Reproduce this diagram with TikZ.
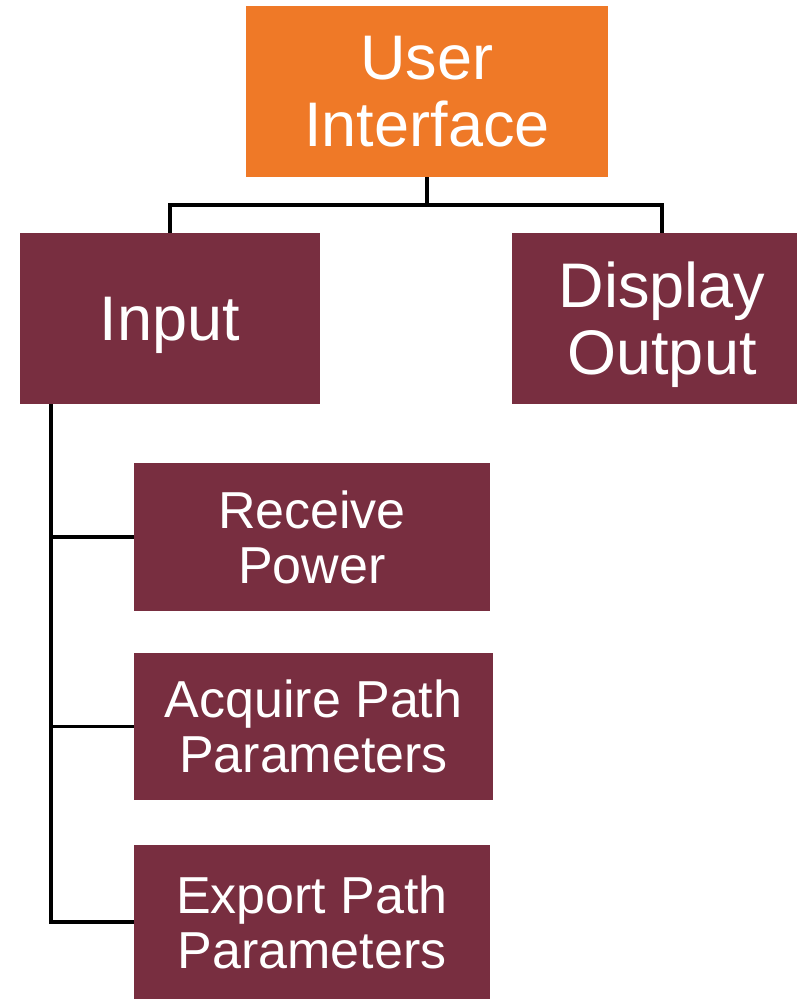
\documentclass[tikz,border=0pt]{standalone}
\usepackage{fontspec}
\setmainfont{Liberation Sans}
\definecolor{uiorange}{RGB}{239,121,39}
\definecolor{maroon}{RGB}{120,46,64}
\begin{document}
\begin{tikzpicture}[x=1pt,y=-1pt,
  box/.style={rectangle, fill=maroon, text=white, align=center, inner sep=0pt,
    minimum width=300pt, minimum height=171pt,
    font=\fontsize{63}{67}\selectfont},
  subbox/.style={rectangle, fill=maroon, text=white, align=center, inner sep=0pt,
    minimum width=356pt, minimum height=148pt,
    font=\fontsize{52}{55}\selectfont},
  link/.style={draw=black, line width=3.2pt}]
\useasboundingbox (0,0) rectangle (796,999);

% top level
\node[box, fill=uiorange, minimum width=362pt] (ui) at (427,91.5) {User\\Interface};

% second level
\node[box, text depth=0pt] (input) at (170,318.5) {Input};
\node[box, text depth=0pt] (display) at (662,318.5) {Display\\Output};

% input sub-functions
\node[subbox] (rp) at (312,537) {Receive\\Power};
\node[subbox, minimum width=359pt, minimum height=147pt] (app) at (313.5,726.5) {Acquire Path\\Parameters};
\node[subbox, minimum height=154pt] (epp) at (312,922) {Export Path\\Parameters};

% bus and trunk coordinates
\coordinate (bus) at (427,205);
\coordinate (trunk) at (51,404);

% connectors from the top level
\draw[link] (ui.south) -- (bus);
\draw[link] (input.north) |- (bus) -| (display.north);

% trunk from Input down to its sub-functions
\draw[link] (trunk) |- (epp.west);
\draw[link] (trunk |- rp.west) -- (rp.west);
\draw[link] (trunk |- app.west) -- (app.west);
\end{tikzpicture}
\end{document}
